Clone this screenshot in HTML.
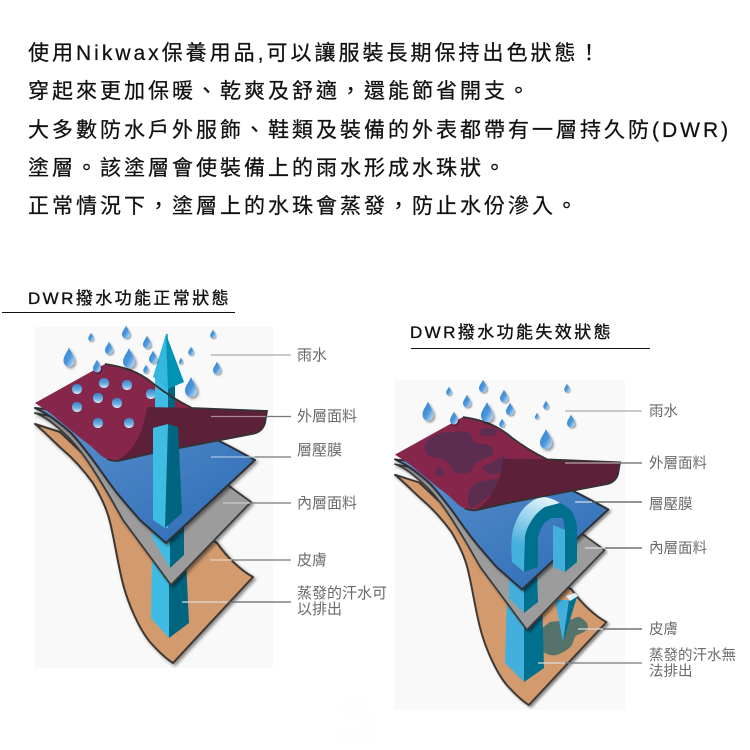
<!DOCTYPE html>
<html lang="zh-TW"><head><meta charset="utf-8"><title>DWR</title>
<style>html,body{margin:0;padding:0;background:#fff}svg{display:block}
text{font-family:"Liberation Sans","Noto Sans CJK TC",sans-serif}
.t{font-size:21px;letter-spacing:3px;fill:#111;stroke:#111;stroke-width:.25px}
.h{font-size:17px;letter-spacing:2.4px;fill:#111;stroke:#111;stroke-width:.35px}
.l{font-size:15px;fill:#6a6a6a}
.r{font-size:14.5px;fill:#6a6a6a}
</style></head><body>
<svg width="750" height="750" viewBox="0 0 750 750" xmlns="http://www.w3.org/2000/svg">
<defs>
<linearGradient id="bl" x1="0" y1="0" x2="1" y2="1"><stop offset="0" stop-color="#5b93cf"/><stop offset="1" stop-color="#2c6ab4"/></linearGradient>
<linearGradient id="dg" x1="0" y1="0" x2="1" y2="1"><stop offset="0" stop-color="#2f7fd0"/><stop offset=".55" stop-color="#4c97dc"/><stop offset="1" stop-color="#d4ecfa"/></linearGradient>
<linearGradient id="bd" x1="0" y1="0" x2="0" y2="1"><stop offset="0" stop-color="#3a80c8"/><stop offset=".6" stop-color="#6fb0e0"/><stop offset="1" stop-color="#d8eefa"/></linearGradient>
<linearGradient id="ar" gradientUnits="userSpaceOnUse" x1="540" y1="497" x2="520" y2="545"><stop offset="0" stop-color="#dff1fa"/><stop offset="1" stop-color="#45b0dc"/></linearGradient>
<filter id="s" x="-10%" y="-10%" width="125%" height="125%"><feDropShadow dx="2" dy="2" stdDeviation="1.5" flood-color="#000" flood-opacity=".45"/></filter>
<filter id="ds" x="-40%" y="-40%" width="200%" height="200%"><feDropShadow dx="1.5" dy="1.5" stdDeviation="1" flood-color="#000" flood-opacity=".4"/></filter>
<path id="d" d="M0-8C1.500-4 5-1 5 3A5 5 0 0 1-5 3C-5-1-1.500-4 0-8Z" fill="url(#dg)" filter="url(#ds)"/>
<path id="b" d="M0-5C3-5 5-3 5 0C5 3 3 5 0 5C-3 5-5 3-5 0C-5-3-3-5 0-5Z" fill="url(#bd)"/>
<path id="skin" d="M35 424C45 432 54 442 62 449C75 460 85 472 93 483C100 495 105 505 108 515C113 530 116 555 122 580C128 605 140 630 150 642C158 651 165 658 173 663L253 577C240 570 226 556 217 543L100 470L60 432Z" fill="#d29a6d" stroke="#3d3733" stroke-width="2" stroke-linejoin="round" filter="url(#s)"/>
<path id="gray" d="M35 413C45 416 55 425 63 432C72 440 80 450 87 460C95 472 103 485 110 497L123 520L171 585L251 502L229 486L160 440L70 420Z" fill="#9c9c9c" stroke="#3a3a3a" stroke-width="1.800" stroke-linejoin="round" filter="url(#s)"/>
<path id="blue" d="M35 408L43 412C52 417 62 425 70 432C78 440 86 451 93 460C101 471 109 483 117 493C125 503 133 512 140 520L166 543L255 460C240 452 228 445 217 440L150 420Z" fill="url(#bl)" stroke="#2f2f35" stroke-width="2" stroke-linejoin="round" filter="url(#s)"/>
<path id="mar" d="M35 403L105 364C125 367 140 372 155 385C168 395 180 402 192 408L267 411L265 423C263 430 258 433 252 434L200 444L153 453L118 461C115 461 111 461 107 459C102 457 98 453 92 447C86 442 80 438 73 432L50 413Z" fill="#86264a"/>
<path id="maredge" d="M105 364C125 367 140 372 155 385C168 395 180 402 192 408L267 411L265 423C263 430 258 433 252 434L200 444L153 453L118 461C115 461 111 461 107 459" fill="none" stroke="#333" stroke-width="1.800"/>
<path id="fold" d="M147 407L192 408L267 411L265 423C263 430 258 433 252 434L200 444L153 453L118 461L115 461C125 458 132 448 137 440C142 432 145 420 147 407Z" fill="#5c2138"/>
</defs>
<rect width="750" height="750" fill="#fff"/>
<path d="M333 713C340 702 348 696 357 695C364 697 368 702 370 707L378 740H333L337 730H362V717Z" fill="#fefefe"/>

<text class="t" x="28" y="60">使用Nikwax保養用品,可以讓服裝長期保持出色狀態！</text>
<text class="t" x="28" y="98">穿起來更加保暖、乾爽及舒適，還能節省開支。</text>
<text class="t" x="28" y="137">大多數防水戶外服飾、鞋類及裝備的外表都帶有一層持久防(DWR)</text>
<text class="t" x="28" y="175">塗層。該塗層會使裝備上的雨水形成水珠狀。</text>
<text class="t" x="28" y="213">正常情況下，塗層上的水珠會蒸發，防止水份滲入。</text>

<text class="h" x="28" y="304">DWR撥水功能正常狀態</text>
<rect x="2" y="312" width="233" height="1" fill="#111"/>
<text class="h" x="410" y="338">DWR撥水功能失效狀態</text>
<rect x="411" y="348" width="239" height="1" fill="#111"/>

<!-- left diagram -->
<rect x="34" y="327" width="239" height="341" fill="#f9f9f9"/>
<use href="#skin"/>
<path d="M152 560L151 618L169 638V573Z" fill="#3fbce4"/><path d="M169 573V638L189 623L186 560Z" fill="#00657f"/>
<use href="#gray"/>
<path d="M152 520V537L170 568V520Z" fill="#3fbce4"/><path d="M170 520V568L184 555V513Z" fill="#00657f"/>
<use href="#blue"/>
<use href="#mar"/>
<use href="#b" x="77" y="389"/><use href="#b" x="104" y="383"/><use href="#b" x="127" y="385"/><use href="#b" x="151" y="394"/><use href="#b" x="98" y="398"/><use href="#b" x="117" y="403"/><use href="#b" x="77" y="407"/><use href="#b" x="98" y="423"/><use href="#b" x="129" y="423"/>
<path d="M155 370V408H168V370Z" fill="#3fbce4"/><path d="M168 380V408H175V380Z" fill="#00657f"/>
<use href="#fold"/>
<use href="#maredge"/>
<path d="M166 334L153 377L156 379L168 389V334Z" fill="#33b7de"/><path d="M166 334L184 382L168 389Z" fill="#0093b3"/>
<path d="M153 428L168 424V528L165 528L153 520Z" fill="#3fbce4"/><path d="M168 424L178 427L182 513L165 528Z" fill="#00657f"/>
<g>
<use href="#d" transform="translate(69 357) scale(1.100 1.200)"/><use href="#d" transform="translate(129 358) scale(1.200 1.250)"/><use href="#d" transform="translate(191 387) scale(1.200 1.250)"/>
<use href="#d" transform="translate(126 332) scale(.8)"/><use href="#d" transform="translate(109 348) scale(.8)"/><use href="#d" transform="translate(147 342) scale(.8)"/><use href="#d" transform="translate(153 357) scale(.8)"/><use href="#d" transform="translate(217 368) scale(.8)"/><use href="#d" transform="translate(97 366) scale(.8)"/>
<use href="#d" transform="translate(91 337) scale(.55)"/><use href="#d" transform="translate(213 334) scale(.55)"/><use href="#d" transform="translate(191 351) scale(.55)"/><use href="#d" transform="translate(181 361) scale(.4)"/><use href="#d" transform="translate(146 369) scale(.55)"/>
</g>
<g stroke-width="1.200">
<path d="M211 355H291" stroke="#aaa"/>
<path d="M211 416.500H265" stroke="#a88a96"/><path d="M265 416.500H291" stroke="#777"/>
<path d="M211 457H255" stroke="#a9c3df"/><path d="M255 457H291" stroke="#777"/>
<path d="M223 503H250" stroke="#ccc"/><path d="M250 503H291" stroke="#777"/>
<path d="M210 560H232" stroke="#e8d2bf"/><path d="M232 560H291" stroke="#777"/>
<path d="M182 602H228" stroke="#ddd"/><path d="M228 602H291" stroke="#666"/>
</g>
<text class="l" x="297" y="360">雨水</text>
<text class="l" x="297" y="421">外層面料</text>
<text class="l" x="297" y="455">層壓膜</text>
<text class="l" x="297" y="508">內層面料</text>
<text class="l" x="297" y="565">皮膚</text>
<text class="l" x="297" y="598">蒸發的汗水可</text>
<text class="l" x="297" y="614">以排出</text>

<!-- right diagram -->
<rect x="394" y="380" width="231" height="330" fill="#f9f9f9"/>
<use href="#skin" transform="translate(361.050 66.500) scale(.97 .963)"/>
<path d="M542 628C543 636 542 645 543 652C548 655 552 656 557 655C564 652 569 649 572 645C574 640 574 637 577 635C582 633 587 631 588 628C588 625 587 623 585 621C582 618 580 617 578 617C574 618 571 620 568 620L550 622Z" fill="#56736b"/>
<path d="M507 600L505 663L524 682V600Z" fill="#44afdc"/><path d="M524 600V682L544 668L542 600Z" fill="#00708f"/>
<path d="M555 600L563 642L569 600Z" fill="#44afdc"/><path d="M569 600L577 597L563 642Z" fill="#00708f"/>
<use href="#gray" transform="translate(361.050 66.500) scale(.97 .963)"/>
<path d="M509 570V598L524 613V570Z" fill="#44afdc"/><path d="M524 570V613L538 602L537 570Z" fill="#00708f"/>
<path d="M566 596L575 593L578 596L570 601Z" fill="#dff1fa"/>
<use href="#blue" transform="translate(361.050 66.500) scale(.97 .963)"/>
<!-- arch -->
<path d="M553 525L565 530V572L553 567Z" fill="#44afdc"/><path d="M565 530L577 525V562L565 572Z" fill="#00708f"/>
<path d="M512 562C511 548 511 538 513 530C516 520 520 512 525 507C530 502 536 498 542 497C549 497 555 500 560 503L545 507C539 511 535 515 532 520C528 526 526 531 525 537L524 572Z" fill="url(#ar)"/>
<path d="M524 572L525 537C526 531 528 526 532 520C535 515 539 511 545 507L560 503C565 505 570 509 573 513C575 518 577 524 577 530L565 530L563 518L552 518C548 520 545 522 543 525C540 530 538 535 538 540V567Z" fill="#00708f"/>
<use href="#mar" transform="translate(361.050 66.500) scale(.97 .963)"/>
<g fill="#5b2d50">
<path d="M425 447C426 441 429 438 432 437C438 433 445 432 452 432C458 431 465 431 470 433C473 436 472 440 473 442C480 445 488 444 492 447C494 450 494 453 492 455C486 459 480 460 475 463C473 466 473 470 470 472C465 474 460 474 455 473C451 469 450 463 445 460C439 458 433 458 428 455C426 452 425 450 425 447Z"/>
<ellipse cx="488" cy="432" rx="9" ry="4"/>
<path d="M435 472L440 466L445 475L436 476Z"/>
<path d="M482 467C486 465 489 464 493 462L505 455L503 473L490 475Z"/>
<path d="M468 493L477 482L500 478L493 493L473 508Z"/>
</g>
<use href="#fold" transform="translate(361.050 66.500) scale(.97 .963)"/>
<use href="#maredge" transform="translate(361.050 66.500) scale(.97 .963)"/>
<path d="M468 493C470 488 473 485 477 482L496 479C493 488 484 500 473 508C470 508 468 506 468 493Z" fill="#5b2d50"/>
<g>
<use href="#d" transform="translate(428 411) scale(1.100 1.200)"/><use href="#d" transform="translate(487 412) scale(1.200 1.250)"/><use href="#d" transform="translate(546 439) scale(1.200 1.250)"/>
<use href="#d" transform="translate(483 386) scale(.8)"/><use href="#d" transform="translate(467 401) scale(.8)"/><use href="#d" transform="translate(504 396) scale(.8)"/><use href="#d" transform="translate(510 409) scale(.8)"/><use href="#d" transform="translate(571 421) scale(.8)"/><use href="#d" transform="translate(454 418) scale(.8)"/>
<use href="#d" transform="translate(449 391) scale(.55)"/><use href="#d" transform="translate(567 388) scale(.55)"/><use href="#d" transform="translate(546 405) scale(.55)"/><use href="#d" transform="translate(537 416) scale(.4)"/><use href="#d" transform="translate(502 423) scale(.55)"/>
</g>
<g stroke-width="1.200">
<path d="M565 411H642" stroke="#aaa"/>
<path d="M565 463H620" stroke="#b9a3ac"/><path d="M620 463H642" stroke="#666"/>
<path d="M575 502H592" stroke="#cfe0f0"/><path d="M592 502H642" stroke="#555"/>
<path d="M585 548H605" stroke="#ddd"/><path d="M605 548H642" stroke="#555"/>
<path d="M578 629H603" stroke="#ddd"/><path d="M603 629H642" stroke="#555"/>
<path d="M538 663H565" stroke="#ddd"/><path d="M565 663H642" stroke="#777"/>
</g>
<text class="r" x="649" y="416">雨水</text>
<text class="r" x="649" y="468">外層面料</text>
<text class="r" x="649" y="509">層壓膜</text>
<text class="r" x="649" y="553">內層面料</text>
<text class="r" x="649" y="634">皮膚</text>
<text class="r" x="649" y="660">蒸發的汗水無</text>
<text class="r" x="649" y="676">法排出</text>
</svg>
</body></html>
